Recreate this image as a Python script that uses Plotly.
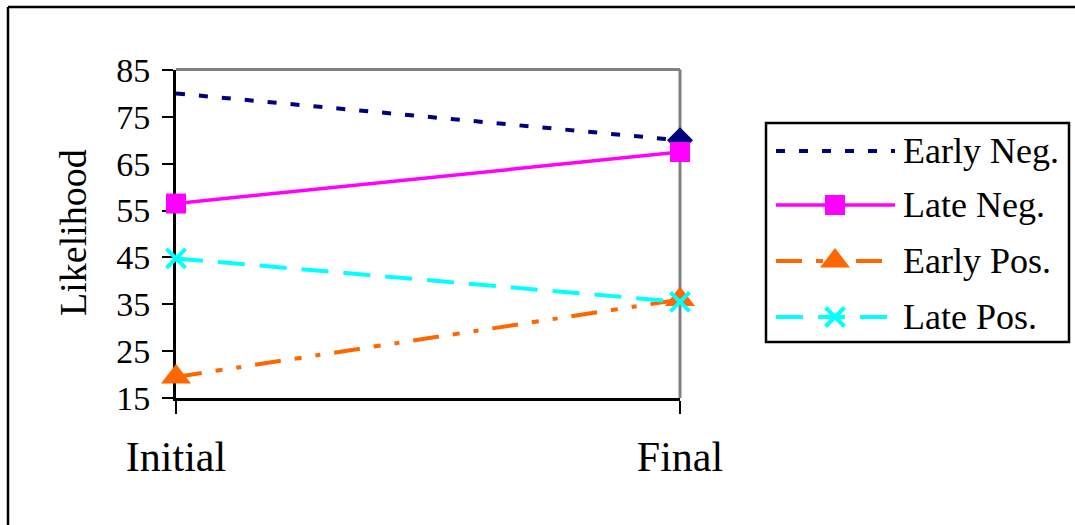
import plotly.graph_objects as go

# Data
stages = ["Initial", "Final"]
series_names = ["Early Neg.", "Late Neg.", "Early Pos.", "Late Pos."]
early_neg = [80, 70]
late_neg = [56.5, 67.5]
early_pos = [19.5, 36]
late_pos = [44.8, 35.5]
y_ticks = [15, 25, 35, 45, 55, 65, 75, 85]

series_values = [early_neg, late_neg, early_pos, late_pos]

W, H = 1075, 525
FONT = "Liberation Serif"


def fx(px):
    return px / W


def fy(px):
    return 1 - px / H


# Per-series line/marker styling
styles = [
    dict(color="#000080", width=4, dash="9px,14px", symbol="diamond", size=20,
         sizes=[0, 20], legend_marker=False),
    dict(color="#FF00FF", width=3.5, dash="solid", symbol="square", size=20,
         sizes=[20, 20], legend_marker=True),
    dict(color="#FF6600", width=4, dash="26px,14px,7px,14px,5px,14px",
         symbol="triangle-up", size=26, sizes=[26, 26], legend_marker=True),
    dict(color="#00FFFF", width=4, dash="27px,15px", symbol="x-thin-open",
         size=19, sizes=[19, 19], legend_marker=True),
]

fig = go.Figure()

for name, vals, st in zip(series_names, series_values, styles):
    is_open = st["symbol"].endswith("open")
    fig.add_trace(go.Scatter(
        x=stages, y=vals, name=name, mode="lines+markers",
        line=dict(color=st["color"], width=st["width"], dash=st["dash"]),
        marker=dict(symbol=st["symbol"], size=st["sizes"], color=st["color"],
                    opacity=1,
                    line=dict(color=st["color"], width=4 if is_open else 0)),
        cliponaxis=False, showlegend=False, hoverinfo="skip",
        xaxis="x", yaxis="y",
    ))

# Legend drawn on its own small axis (pixel-like coordinates)
leg_left, leg_right, leg_top, leg_bottom = 766, 1069, 123, 342
row_y = [151, 205, 261, 317]
sample_x0, sample_x1, sample_mid = 776, 895, 835
text_x = 901

for name, st, ry in zip(series_names, styles, row_y):
    fig.add_trace(go.Scatter(
        x=[sample_x0, sample_x1], y=[ry, ry], mode="lines",
        line=dict(color=st["color"], width=st["width"], dash=st["dash"]),
        showlegend=False, hoverinfo="skip", xaxis="x2", yaxis="y2",
        cliponaxis=False,
    ))
    if st["legend_marker"]:
        is_open = st["symbol"].endswith("open")
        fig.add_trace(go.Scatter(
            x=[sample_mid], y=[ry], mode="markers",
            marker=dict(symbol=st["symbol"], size=st["size"], color=st["color"],
                        opacity=1,
                        line=dict(color=st["color"], width=4 if is_open else 0)),
            showlegend=False, hoverinfo="skip", xaxis="x2", yaxis="y2",
            cliponaxis=False,
        ))
    fig.add_annotation(
        x=text_x, y=ry, xref="x2", yref="y2", text=name, showarrow=False,
        xanchor="left", yanchor="middle",
        font=dict(family=FONT, size=36, color="black"),
    )

shapes = [
    # gray top and right plot-area border
    dict(type="line", xref="paper", yref="paper", x0=fx(176), x1=fx(680),
         y0=fy(69.5), y1=fy(69.5), line=dict(color="#808080", width=3), layer="below"),
    dict(type="line", xref="paper", yref="paper", x0=fx(680), x1=fx(680),
         y0=fy(69.5), y1=fy(398), line=dict(color="#808080", width=3), layer="below"),
    # legend box
    dict(type="rect", xref="paper", yref="paper", x0=fx(leg_left), x1=fx(leg_right),
         y0=fy(leg_bottom), y1=fy(leg_top), line=dict(color="black", width=2.5)),
    # outer chart frame (top and left edges)
    dict(type="line", xref="paper", yref="paper", x0=fx(8), x1=1.02,
         y0=fy(7), y1=fy(7), line=dict(color="black", width=2.5)),
    dict(type="line", xref="paper", yref="paper", x0=fx(8), x1=fx(8),
         y0=fy(7), y1=-0.02, line=dict(color="black", width=2.5)),
]

fig.add_annotation(
    x=fx(73), y=fy(233), xref="paper", yref="paper", text="Likelihood",
    textangle=-90, showarrow=False, xanchor="center", yanchor="middle",
    font=dict(family=FONT, size=38, color="black"),
)

fig.update_layout(
    template="none",
    width=W, height=H,
    margin=dict(l=0, r=0, t=0, b=0, pad=0),
    paper_bgcolor="white", plot_bgcolor="white",
    showlegend=False,
    font=dict(family=FONT, color="black"),
    shapes=shapes,
    xaxis=dict(
        domain=[fx(176), fx(680)], type="category", range=[0, 1],
        automargin=False,
        showline=True, linecolor="black", linewidth=2.5,
        ticks="outside", ticklen=13, tickwidth=2, tickcolor="black",
        showgrid=False, zeroline=False, layer="below traces",
        tickfont=dict(family=FONT, size=42, color="black"),
        ticklabelstandoff=7,
    ),
    yaxis=dict(
        domain=[fy(398), fy(70)], range=[15, 85], tickvals=y_ticks,
        automargin=False,
        showline=True, linecolor="black", linewidth=3,
        ticks="outside", ticklen=11, tickwidth=2, tickcolor="black",
        showgrid=False, zeroline=False, layer="below traces",
        tickfont=dict(family=FONT, size=34, color="black"),
        ticklabelstandoff=5,
    ),
    xaxis2=dict(domain=[fx(leg_left), fx(leg_right)], range=[leg_left, leg_right],
                visible=False, fixedrange=True, automargin=False),
    yaxis2=dict(domain=[fy(leg_bottom), fy(leg_top)], range=[leg_bottom, leg_top],
                visible=False, fixedrange=True, automargin=False),
)

fig.write_html("out.html")
